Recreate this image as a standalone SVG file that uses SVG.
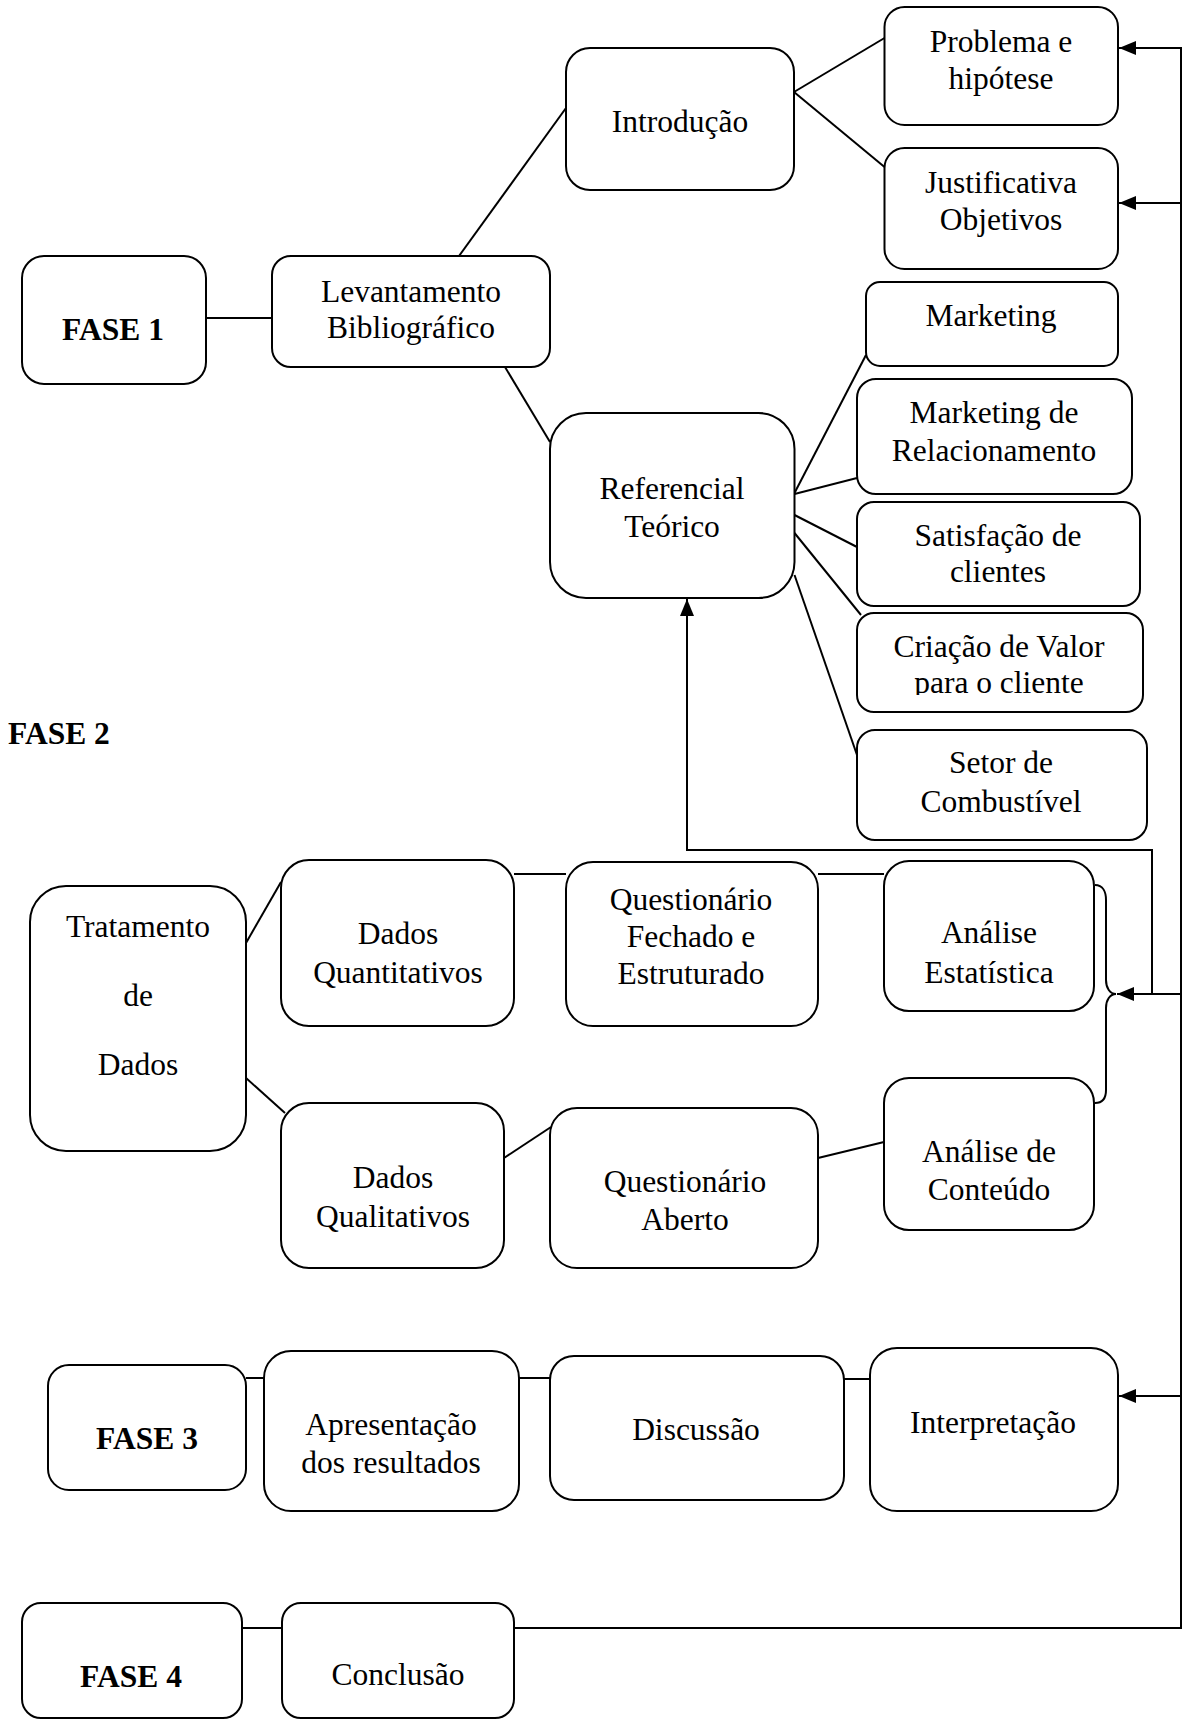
<svg xmlns="http://www.w3.org/2000/svg" width="1182" height="1720" viewBox="0 0 1182 1720">
<style>
.box{fill:#fff;stroke:#000;stroke-width:2}
.ln{fill:none;stroke:#000;stroke-width:2}
.t{font-family:"Liberation Serif","Times New Roman",serif;font-size:31.5px;fill:#000;text-anchor:middle}
.b{font-family:"Liberation Serif","Times New Roman",serif;font-size:31.5px;font-weight:bold;fill:#000;text-anchor:middle}
</style>
<defs>
<marker id="ah" markerUnits="userSpaceOnUse" markerWidth="17" markerHeight="14" refX="17" refY="7" orient="auto">
<path d="M0,0 L17,7 L0,14 z" fill="#000"/>
</marker>
<clipPath id="clipCria"><rect x="857" y="613" width="290" height="82"/></clipPath>
</defs>
<rect width="1182" height="1720" fill="#fff"/>

<g id="connectors">
<line class="ln" x1="206" y1="318" x2="272" y2="318"/>
<line class="ln" x1="459" y1="256" x2="566" y2="108"/>
<line class="ln" x1="505" y1="367" x2="550" y2="442"/>
<line class="ln" x1="794" y1="92" x2="884.5" y2="38"/>
<line class="ln" x1="794" y1="92" x2="884.5" y2="167"/>
<line class="ln" x1="794.5" y1="493" x2="866" y2="355"/>
<line class="ln" x1="794.5" y1="494" x2="857" y2="478"/>
<line class="ln" x1="794.5" y1="515" x2="857" y2="547"/>
<line class="ln" x1="794.5" y1="533" x2="861" y2="615"/>
<line class="ln" x1="794.5" y1="575" x2="857" y2="755"/>
<path class="ln" d="M1152,994 V850 H687 V599" marker-end="url(#ah)"/>
<line class="ln" x1="246" y1="943" x2="281" y2="882"/>
<line class="ln" x1="246" y1="1078" x2="285" y2="1113"/>
<line class="ln" x1="514" y1="874" x2="566" y2="874"/>
<line class="ln" x1="818" y1="874" x2="884" y2="874"/>
<line class="ln" x1="504" y1="1158" x2="551" y2="1127"/>
<line class="ln" x1="818" y1="1158" x2="884" y2="1142"/>
<path class="ln" d="M1095,885 C1103,885 1106,892 1106,900 V980 C1106,988 1110,994 1116,994 C1110,994 1106,1000 1106,1008 V1090 C1106,1098 1103,1103 1095,1103"/>
<path class="ln" d="M514,1628 H1181 V48 H1119" marker-end="url(#ah)"/>
<path class="ln" d="M1181,203 H1119" marker-end="url(#ah)"/>
<path class="ln" d="M1181,994 H1117" marker-end="url(#ah)"/>
<path class="ln" d="M1181,1396 H1119" marker-end="url(#ah)"/>
<line class="ln" x1="246" y1="1378" x2="264" y2="1378"/>
<line class="ln" x1="518" y1="1378" x2="550" y2="1378"/>
<line class="ln" x1="844" y1="1379" x2="870" y2="1379"/>
<line class="ln" x1="242" y1="1628" x2="282" y2="1628"/>
</g>

<g id="fase1"><rect class="box" x="22" y="256" width="184" height="128" rx="22"/><text class="b" x="113" y="340">FASE 1</text></g>
<g id="levantamento"><rect class="box" x="272" y="256" width="278" height="111" rx="19"/><text class="t" x="411" y="302">Levantamento</text><text class="t" x="411" y="338">Bibliográfico</text></g>
<g id="introducao"><rect class="box" x="566" y="48" width="228" height="142" rx="24"/><text class="t" x="680" y="132">Introdução</text></g>
<g id="problema"><rect class="box" x="884.5" y="7" width="233.5" height="118" rx="20"/><text class="t" x="1001" y="52">Problema e</text><text class="t" x="1001" y="89">hipótese</text></g>
<g id="justificativa"><rect class="box" x="884.5" y="148" width="233.5" height="121" rx="20"/><text class="t" x="1001" y="193">Justificativa</text><text class="t" x="1001" y="230">Objetivos</text></g>
<g id="marketing"><rect class="box" x="866" y="282" width="252" height="84" rx="14"/><text class="t" x="991" y="326">Marketing</text></g>
<g id="mkt-relacionamento"><rect class="box" x="857" y="379" width="275" height="115" rx="19"/><text class="t" x="994" y="423">Marketing de</text><text class="t" x="994" y="461">Relacionamento</text></g>
<g id="satisfacao"><rect class="box" x="857" y="502" width="283" height="104" rx="17"/><text class="t" x="998" y="546">Satisfação de</text><text class="t" x="998" y="582">clientes</text></g>
<g id="criacao"><rect class="box" x="857" y="613" width="286" height="99" rx="17"/><g clip-path="url(#clipCria)"><text class="t" x="999" y="657">Criação de Valor</text><text class="t" x="999" y="693">para o cliente</text></g></g>
<g id="setor"><rect class="box" x="857" y="730" width="290" height="110" rx="18"/><text class="t" x="1001" y="773">Setor de</text><text class="t" x="1001" y="812">Combustível</text></g>
<g id="referencial"><rect class="box" x="550" y="413" width="244.5" height="185" rx="36"/><text class="t" x="672" y="499">Referencial</text><text class="t" x="672" y="537">Teórico</text></g>

<g id="fase2"><text class="b" x="8" y="744" style="text-anchor:start">FASE 2</text></g>
<g id="tratamento"><rect class="box" x="30" y="886" width="216" height="265" rx="36"/><text class="t" x="138" y="937">Tratamento</text><text class="t" x="138" y="1006">de</text><text class="t" x="138" y="1075">Dados</text></g>
<g id="dados-quant"><rect class="box" x="281" y="860" width="233" height="166" rx="28"/><text class="t" x="398" y="944">Dados</text><text class="t" x="398" y="983">Quantitativos</text></g>
<g id="quest-fechado"><rect class="box" x="566" y="862" width="252" height="164" rx="27"/><text class="t" x="691" y="910">Questionário</text><text class="t" x="691" y="947">Fechado e</text><text class="t" x="691" y="984">Estruturado</text></g>
<g id="analise-estat"><rect class="box" x="884" y="861" width="210" height="150" rx="25"/><text class="t" x="989" y="943">Análise</text><text class="t" x="989" y="983">Estatística</text></g>
<g id="dados-qual"><rect class="box" x="281" y="1103" width="223" height="165" rx="28"/><text class="t" x="393" y="1188">Dados</text><text class="t" x="393" y="1227">Qualitativos</text></g>
<g id="quest-aberto"><rect class="box" x="550" y="1108" width="268" height="160" rx="27"/><text class="t" x="685" y="1192">Questionário</text><text class="t" x="685" y="1230">Aberto</text></g>
<g id="analise-conteudo"><rect class="box" x="884" y="1078" width="210" height="152" rx="25"/><text class="t" x="989" y="1162">Análise de</text><text class="t" x="989" y="1200">Conteúdo</text></g>

<g id="fase3"><rect class="box" x="48" y="1365" width="198" height="125" rx="21"/><text class="b" x="147" y="1449">FASE 3</text></g>
<g id="apresentacao"><rect class="box" x="264" y="1351" width="255" height="160" rx="27"/><text class="t" x="391" y="1435">Apresentação</text><text class="t" x="391" y="1473">dos resultados</text></g>
<g id="discussao"><rect class="box" x="550" y="1356" width="294" height="144" rx="24"/><text class="t" x="696" y="1440">Discussão</text></g>
<g id="interpretacao"><rect class="box" x="870" y="1348" width="248" height="163" rx="27"/><text class="t" x="993" y="1433">Interpretação</text></g>

<g id="fase4"><rect class="box" x="22" y="1603" width="220" height="115" rx="19"/><text class="b" x="131" y="1687">FASE 4</text></g>
<g id="conclusao"><rect class="box" x="282" y="1603" width="232" height="115" rx="19"/><text class="t" x="398" y="1685">Conclusão</text></g>
</svg>
